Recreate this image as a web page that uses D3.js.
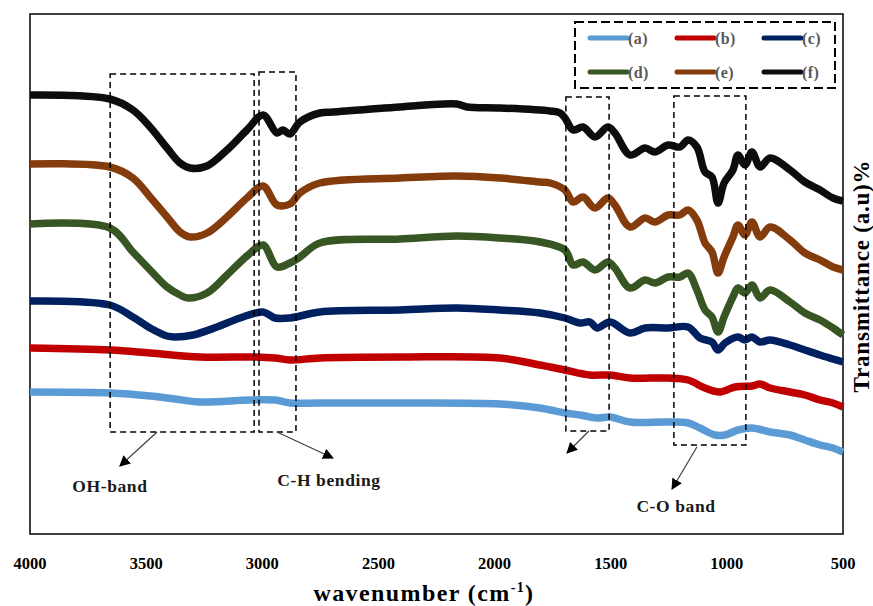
<!DOCTYPE html>
<html>
<head>
<meta charset="utf-8">
<script src="https://cdn.jsdelivr.net/npm/d3@7"></script>
<style>
  body { margin: 0; background: #fff; }
  text { font-family: "Palatino Linotype", "Book Antiqua", Palatino, "Liberation Serif", serif; font-weight: bold; }
</style>
</head>
<body>
<div id="chart"></div>
<script>
// FTIR spectra, [wavenumber cm-1, transmittance a.u.]
let seriesA = [[4000,28.4],[3655,28.2],[3483,27.6],[3376,27.0],[3268,26.4],[3053,26.8],[2945,26.8],[2881,26.2],[2752,26.2],[2407,26.2],[1977,26.0],[1804,25.2],[1697,24.2],[1632,23.8],[1559,23.2],[1503,23.4],[1417,22.4],[1253,22.4],[1167,22.2],[1116,21.2],[1051,19.8],[1008,19.8],[952,20.8],[892,21.2],[814,20.4],[728,19.8],[664,18.8],[599,17.8],[543,17.2],[500,16.4]]
let seriesB = [[4000,37.2],[3655,36.8],[3483,36.2],[3268,35.4],[3031,35.4],[2945,35.2],[2881,34.8],[2752,35.2],[2407,35.4],[1977,35.2],[1804,33.8],[1697,32.8],[1589,31.8],[1503,31.8],[1417,31.2],[1253,31.2],[1167,30.8],[1094,29.2],[1030,28.4],[965,29.4],[892,29.6],[857,30.0],[814,29.2],[728,28.4],[664,27.8],[599,26.8],[543,26.2],[500,25.4]]
let seriesC = [[4000,46.6],[3656,45.8],[3557,43.4],[3483,41.2],[3410,39.6],[3376,39.4],[3298,39.8],[3195,41.4],[3096,43.2],[2997,44.4],[2945,43.2],[2881,43.2],[2752,44.4],[2407,44.8],[2162,45.2],[1977,44.8],[1804,44.2],[1697,43.2],[1632,42.2],[1589,42.4],[1559,41.2],[1503,42.4],[1417,40.2],[1352,41.2],[1253,41.2],[1167,41.4],[1116,39.2],[1064,38.4],[1038,36.8],[1008,38.2],[952,39.4],[922,38.8],[892,39.4],[857,38.4],[814,38.8],[728,37.8],[664,36.8],[599,35.8],[543,35.0],[500,34.4]]
let seriesD = [[4000,62.0],[3656,61.2],[3557,56.4],[3483,52.8],[3410,49.4],[3354,47.8],[3320,47.2],[3238,48.2],[3152,51.8],[3066,55.6],[2997,57.8],[2937,53.4],[2881,54.2],[2838,55.4],[2752,58.2],[2407,59.0],[2162,59.6],[1977,59.2],[1804,58.4],[1697,56.8],[1662,53.8],[1619,54.4],[1568,52.8],[1512,54.4],[1482,53.2],[1417,49.2],[1352,50.8],[1309,50.2],[1253,51.4],[1202,51.4],[1167,52.2],[1129,48.8],[1094,44.8],[1064,43.4],[1038,40.4],[1012,43.4],[974,47.4],[952,49.2],[922,48.2],[892,49.8],[857,47.2],[814,48.8],[728,46.4],[664,44.2],[599,42.8],[543,41.2],[500,39.8]]
let seriesE = [[4000,74.0],[3656,73.4],[3557,71.2],[3483,67.4],[3410,63.4],[3354,60.4],[3311,59.4],[3238,60.2],[3152,63.4],[3066,67.2],[2997,69.6],[2937,65.8],[2881,66.0],[2838,68.2],[2752,70.2],[2407,71.2],[2162,71.6],[1977,71.2],[1804,70.4],[1761,70.2],[1697,68.8],[1662,66.4],[1619,67.4],[1568,65.2],[1512,67.2],[1482,65.8],[1417,61.4],[1352,63.2],[1309,62.4],[1253,63.8],[1202,63.8],[1167,64.8],[1129,62.8],[1094,58.2],[1064,56.4],[1038,52.2],[1012,55.4],[974,59.4],[952,61.8],[922,59.8],[892,62.4],[857,59.4],[814,61.4],[728,58.8],[664,56.2],[599,54.8],[543,53.4],[500,52.8]]
let seriesF = [[4000,87.8],[3656,87.0],[3557,84.8],[3483,81.4],[3410,77.2],[3354,74.2],[3311,73.2],[3238,73.6],[3152,76.8],[3066,80.8],[2997,83.8],[2937,80.2],[2911,80.8],[2881,80.0],[2838,82.4],[2752,84.2],[2696,84.4],[2407,85.4],[2162,86.0],[2119,85.4],[1977,85.2],[1761,84.6],[1718,84.2],[1697,83.2],[1662,80.8],[1619,81.4],[1568,79.4],[1512,81.4],[1482,80.2],[1417,75.8],[1352,77.2],[1309,76.4],[1253,77.8],[1202,77.4],[1167,78.8],[1129,77.4],[1094,72.4],[1064,71.4],[1038,66.2],[1012,70.2],[974,72.8],[952,75.8],[922,73.8],[892,76.4],[857,73.4],[814,75.2],[728,72.8],[664,70.4],[599,68.8],[543,67.2],[500,66.6]]

let seriesNames = ['(a)', '(b)', '(c)', '(d)', '(e)', '(f)']
let seriesColors = ['#5b9bd5', '#c00000', '#002060', '#375623', '#843c0c', '#0d0d0d']
let xTicks = [4000, 3500, 3000, 2500, 2000, 1500, 1000, 500]

// dashed boxes: [wn left, wn right, top, bottom]
let boxes = [[3655, 3035, 92.0, 20.4], [3014, 2855, 92.4, 20.4], [1693, 1507, 87.4, 20.6], [1228, 918, 87.6, 17.8]]
// arrows: [wn from, t from, wn to, t to]
let arrows = [[3453, 20.4, 3613, 13.6], [2937, 20.4, 2696, 15.2], [1594, 20.6, 1688, 16.2], [1129, 17.4, 1236, 9.0]]
let bandLabels = [['OH-band', 3656, 8.4], ['C-H bending', 2713, 9.6], ['C-O band', 1219, 4.4]]

let width = 873, height = 606
let margin = { top: 14, right: 30, bottom: 72, left: 30 }

let x = d3.scaleLinear()
  .domain([4000, 500])
  .range([margin.left, width - margin.right])

let y = d3.scaleLinear()
  .domain([0, 104])
  .range([height - margin.bottom, margin.top])

let svg = d3.select('#chart').append('svg')
  .attr('width', width)
  .attr('height', height)

svg.append('defs').append('marker')
  .attr('id', 'arrow')
  .attr('viewBox', '0 0 10 10')
  .attr('refX', 9)
  .attr('refY', 5)
  .attr('markerWidth', 11)
  .attr('markerHeight', 11)
  .attr('markerUnits', 'userSpaceOnUse')
  .attr('orient', 'auto')
  .append('path')
  .attr('d', 'M0,0 L10,5 L0,10 Z')
  .attr('fill', '#000')

// frame
svg.append('rect')
  .attr('x', margin.left)
  .attr('y', margin.top)
  .attr('width', width - margin.left - margin.right)
  .attr('height', height - margin.top - margin.bottom)
  .attr('fill', 'none')
  .attr('stroke', '#000')
  .attr('stroke-width', 1.5)

// x tick labels
svg.append('g').selectAll('.tick-label')
  .data(xTicks)
  .enter().append('text')
  .attr('x', d => x(d))
  .attr('y', 569)
  .attr('text-anchor', 'middle')
  .attr('font-size', 16.5)
  .text(d => d)

let title = svg.append('text')
  .attr('x', 424)
  .attr('y', 601)
  .attr('text-anchor', 'middle')
  .attr('font-size', 24)
  .attr('letter-spacing', 1.4)
title.append('tspan').text('wavenumber (cm')
title.append('tspan').attr('font-size', 14).attr('dy', -9).text('-1')
title.append('tspan').attr('dy', 9).text(')')

svg.append('text')
  .attr('transform', 'translate(869,276) rotate(-90)')
  .attr('text-anchor', 'middle')
  .attr('font-size', 23)
  .attr('letter-spacing', 0.8)
  .text('Transmittance (a.u)%')

// spectra
let line = d3.line()
  .x(d => x(d[0]))
  .y(d => y(d[1]))
  .curve(d3.curveCatmullRom.alpha(0.5))

let allSeries = [seriesA, seriesB, seriesC, seriesD, seriesE, seriesF]
svg.append('g').selectAll('.spectrum')
  .data(allSeries)
  .enter().append('path')
  .attr('d', d => line(d))
  .attr('fill', 'none')
  .attr('stroke', (d, i) => seriesColors[i])
  .attr('stroke-width', 7.5)
  .attr('stroke-linejoin', 'round')

// band boxes
svg.append('g').selectAll('.band-box')
  .data(boxes)
  .enter().append('rect')
  .attr('x', d => x(d[0]))
  .attr('y', d => y(d[2]))
  .attr('width', d => x(d[1]) - x(d[0]))
  .attr('height', d => y(d[3]) - y(d[2]))
  .attr('fill', 'none')
  .attr('stroke', '#000')
  .attr('stroke-width', 1.5)
  .attr('stroke-dasharray', '6,4')

svg.append('g').selectAll('.band-arrow')
  .data(arrows)
  .enter().append('line')
  .attr('x1', d => x(d[0]))
  .attr('y1', d => y(d[1]))
  .attr('x2', d => x(d[2]))
  .attr('y2', d => y(d[3]))
  .attr('stroke', '#404040')
  .attr('stroke-width', 1.2)
  .attr('marker-end', 'url(#arrow)')

svg.append('g').selectAll('.band-label')
  .data(bandLabels)
  .enter().append('text')
  .attr('x', d => x(d[1]))
  .attr('y', d => y(d[2]))
  .attr('text-anchor', 'middle')
  .attr('font-size', 17.5)
  .attr('letter-spacing', 0.6)
  .attr('fill', '#1a1a1a')
  .text(d => d[0])

// legend
svg.append('rect')
  .attr('x', 575)
  .attr('y', 22)
  .attr('width', 260)
  .attr('height', 66)
  .attr('fill', '#fff')
  .attr('stroke', '#000')
  .attr('stroke-width', 2)
  .attr('stroke-dasharray', '9,4')

let legend = svg.append('g').selectAll('.legend-item')
  .data(seriesNames)
  .enter().append('g')
  .attr('transform', (d, i) => 'translate(' + (590 + (i % 3) * 87) + ',' + (38 + Math.floor(i / 3) * 34) + ')')

legend.append('line')
  .attr('x1', 0)
  .attr('x2', 37)
  .attr('stroke', (d, i) => seriesColors[i])
  .attr('stroke-width', 5)
  .attr('stroke-linecap', 'round')

legend.append('text')
  .attr('x', 38)
  .attr('y', 5.5)
  .attr('font-size', 16)
  .attr('letter-spacing', 0.4)
  .attr('fill', '#595959')
  .text(d => d)
</script>
</body>
</html>
